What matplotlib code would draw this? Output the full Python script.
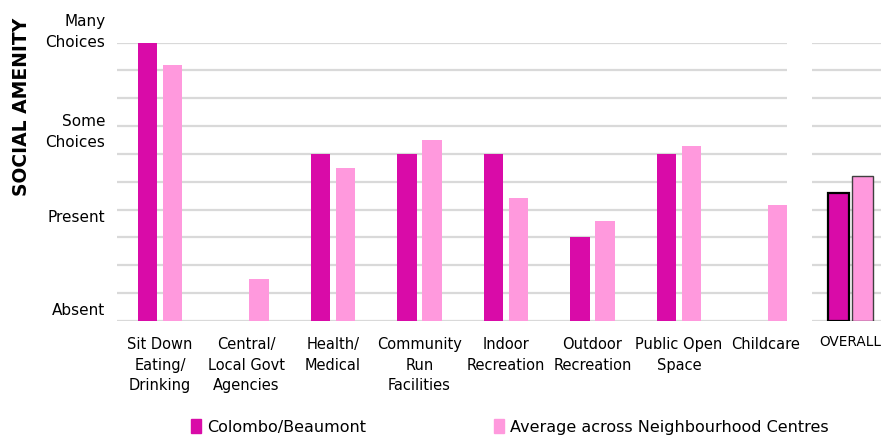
import matplotlib.pyplot as plt
import numpy as np
from matplotlib.patches import Patch

# data
categories = ['Sit Down\nEating/\nDrinking', 'Central/\nLocal Govt\nAgencies', 'Health/\nMedical',
              'Community\nRun\nFacilities', 'Indoor\nRecreation', 'Outdoor\nRecreation',
              'Public Open\nSpace', 'Childcare']
colombo = [10, 0, 6, 6, 6, 3, 6, 0]
average = [9.2, 1.5, 5.5, 6.5, 4.4, 3.6, 6.3, 4.15]
overall_colombo = [4.6]
overall_average = [5.2]
level_labels = ['Absent', 'Present', 'Some\nChoices', 'Many\nChoices']
level_pos = [0.38, 3.73, 6.77, 10.4]

dark = '#D90BA8'
light = '#FF99DD'
grid_col = '#D9D9D9'
plt.rcParams['font.family'] = 'DejaVu Sans'

fig = plt.figure(figsize=(8.81, 4.37), dpi=100)
ax = fig.add_axes([116.7 / 881, 116.3 / 437, 670 / 881, 278 / 437])
ax2 = fig.add_axes([811.7 / 881, 116.3 / 437, 69.3 / 881, 278 / 437])

x = np.arange(len(categories))
w = 0.225
off = 0.144
ax.bar(x - off, colombo, w, color=dark, zorder=3)
ax.bar(x + off, average, w, color=light, zorder=3)
ax.set_xlim(-0.5, 7.245)

ax2.bar([-0.139], overall_colombo, 0.237, color=dark, edgecolor='black', linewidth=1.6, zorder=3)
ax2.bar([0.139], overall_average, 0.237, color=light, edgecolor='#404040', linewidth=1.0, zorder=3)
ax2.set_xlim(-0.45, 0.35)

for a in (ax, ax2):
    a.set_ylim(0, 10)
    a.set_yticks(np.arange(0, 11))
    a.yaxis.grid(True, color=grid_col, linewidth=1.6, zorder=0)
    a.set_yticklabels([])
    a.tick_params(length=0)
    for s in a.spines.values():
        s.set_visible(False)
    a.set_axisbelow(True)

ax.set_xticks(x)
ax.set_xticklabels(categories, fontsize=10.5, linespacing=1.45)
ax.tick_params(axis='x', pad=12)
ax2.set_xticks([])
ax2.text(0, -0.05, 'OVERALL', transform=ax2.get_xaxis_transform(), ha='center', va='top',
         fontsize=9.8, clip_on=False)

for lab, pos in zip(level_labels, level_pos):
    ax.text(-0.017, pos, lab, transform=ax.get_yaxis_transform(), ha='right', va='center',
            fontsize=11, linespacing=1.5, clip_on=False)

fig.text(22 / 881, 1 - 107 / 437, 'SOCIAL AMENITY', rotation=90, ha='center', va='center',
         fontsize=13.5, fontweight='bold')

handles = [Patch(color=dark, label='Colombo/Beaumont'),
           Patch(color=light, label='Average across Neighbourhood Centres')]
fig.legend(handles=handles, loc='center', bbox_to_anchor=(510 / 881, 10 / 437), ncol=2,
           frameon=False, fontsize=11.5, handlelength=0.6, handleheight=0.9, handletextpad=0.4,
           columnspacing=8.0)

fig.savefig('out.png', dpi=100)
